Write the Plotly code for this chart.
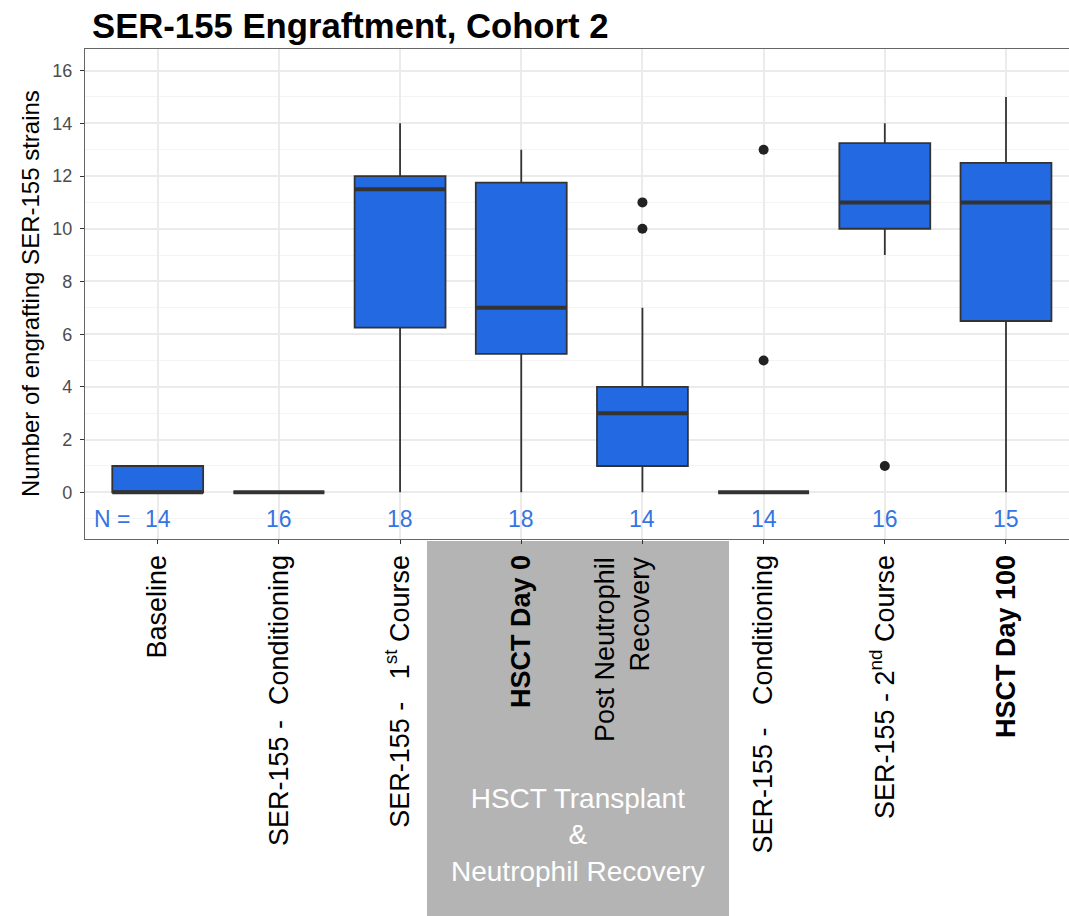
import plotly.graph_objects as go

# ---- data ----
categories = [
    "Baseline",
    "SER-155 -\u00a0 Conditioning",
    "SER-155 - \u00a0 1<sup>st</sup> Course",
    "<b>HSCT Day 0</b>",
    "Post Neutrophil<br>Recovery",
    "SER-155 - \u00a0 Conditioning",
    "SER-155 - 2<sup>nd</sup> Course",
    "<b>HSCT Day 100</b>",
]
q1 = [0, 0, 6.25, 5.25, 1, 0, 10, 6.5]
medians = [0, 0, 11.5, 7, 3, 0, 11, 11]
q3 = [1, 0, 12, 11.75, 4, 0, 13.25, 12.5]
lower_whisker = [0, 0, 0, 0, 0, 0, 9, 0]
upper_whisker = [1, 0, 14, 13, 7, 0, 14, 15]
outlier_cat = [4, 4, 5, 5, 6]
outlier_val = [10, 11, 5, 13, 1]
n_counts = [14, 16, 18, 18, 14, 14, 16, 15]
yticks = [0, 2, 4, 6, 8, 10, 12, 14, 16]

FONT = "Liberation Sans, Arial, Helvetica, sans-serif"
BOX_FILL = "#236AE2"
LINE = "#333333"
BLUE_TXT = "#3574E3"
BOX_W = 0.75
TICK_SIZE = 27

# plot-area geometry in pixels
L, T, B = 85, 49, 539
PW, PH = 984, B - T

xs = list(range(len(categories)))
# the two-line label is drawn as an annotation so it can sit like the original
SHIFTED = 4
ticktext = [("" if i == SHIFTED else c) for i, c in enumerate(categories)]

fig = go.Figure()
fig.add_trace(go.Box(
    x=xs, q1=q1, median=medians, q3=q3,
    lowerfence=lower_whisker, upperfence=upper_whisker,
    fillcolor=BOX_FILL, line=dict(color=LINE, width=1.8),
    width=BOX_W, whiskerwidth=0, boxpoints=False, showlegend=False,
))

# thick median lines (ggplot style)
mx, my = [], []
for i, m in zip(xs, medians):
    mx += [i - BOX_W / 2, i + BOX_W / 2, None]
    my += [m, m, None]
fig.add_trace(go.Scatter(x=mx, y=my, mode="lines",
                         line=dict(color=LINE, width=4), showlegend=False))

fig.add_trace(go.Scatter(x=outlier_cat, y=outlier_val, mode="markers",
                         marker=dict(color="#222222", size=10), showlegend=False))

# N labels
anns = [dict(x=i, y=-1, xref="x", yref="y", text=str(n), showarrow=False,
             font=dict(family=FONT, size=23, color=BLUE_TXT))
        for i, n in zip(xs, n_counts)]
anns.append(dict(x=-0.38, y=-1, xref="x", yref="y", text="N =", showarrow=False,
                 font=dict(family=FONT, size=23, color=BLUE_TXT)))
anns.append(dict(x=(578 - L) / PW, y=(B - 835) / PH, xref="paper", yref="paper",
                 xanchor="center", yanchor="middle",
                 text="HSCT Transplant<br>&<br>Neutrophil Recovery", showarrow=False,
                 align="center", font=dict(family=FONT, size=28, color="white")))
anns.append(dict(x=(30 - L) / PW, y=(B - 294) / PH, xref="paper", yref="paper",
                 text="Number of engrafting SER-155 strains", showarrow=False,
                 textangle=-90, xanchor="center", yanchor="middle",
                 font=dict(family=FONT, size=24, color="black")))
anns.append(dict(x=SHIFTED, xref="x", xshift=-20, y=(B - 555) / PH, yref="paper",
                 text=categories[SHIFTED], showarrow=False, textangle=-90,
                 xanchor="center", yanchor="top", align="right",
                 font=dict(family=FONT, size=TICK_SIZE, color="black")))

fig.update_layout(
    width=1069, height=916,
    margin=dict(l=L, r=0, t=T, b=916 - B, autoexpand=False),
    paper_bgcolor="white", plot_bgcolor="white",
    font=dict(family=FONT),
    title=dict(text="<b>SER-155 Engraftment, Cohort 2</b>", x=92 / 1069, xanchor="left",
               xref="container", y=1 - 26 / 916, yanchor="middle", yref="container",
               automargin=False,
               font=dict(family=FONT, size=34.7, color="black")),
    annotations=anns,
    shapes=[dict(type="rect", xref="paper", yref="paper",
                 x0=(427 - L) / PW, x1=(729 - L) / PW, y0=-0.78, y1=-0.004,
                 fillcolor="#B4B4B4", line=dict(width=0), layer="below")],
)

fig.update_xaxes(
    range=[-0.6, 7.52], tickmode="array", tickvals=xs, ticktext=ticktext,
    tickangle=-90, tickfont=dict(family=FONT, size=TICK_SIZE, color="black"),
    showgrid=True, gridcolor="#EBEBEB", gridwidth=1.5, zeroline=False,
    showline=True, linecolor="#666666", linewidth=1.2, mirror=True,
    ticks="outside", ticklen=4, tickcolor="#333333", tickwidth=1.2,
    automargin=False,
)
fig.update_yaxes(
    range=[-1.77, 16.82], tickmode="array", tickvals=yticks,
    tickfont=dict(family=FONT, size=18, color="#4D4D4D"), ticklabelstandoff=4,
    showgrid=True, gridcolor="#EBEBEB", gridwidth=1.5, zeroline=False,
    minor=dict(dtick=1, tick0=0, showgrid=True, gridcolor="#F4F4F4", gridwidth=0.8, ticks=""),
    showline=True, linecolor="#666666", linewidth=1.2, mirror=False,
    ticks="outside", ticklen=4, tickcolor="#333333", tickwidth=1.2,
    automargin=False,
)

fig.write_html("out.html", config={"displayModeBar": False},
               post_script="document.body.style.margin='0px';document.body.style.overflow='hidden';")
